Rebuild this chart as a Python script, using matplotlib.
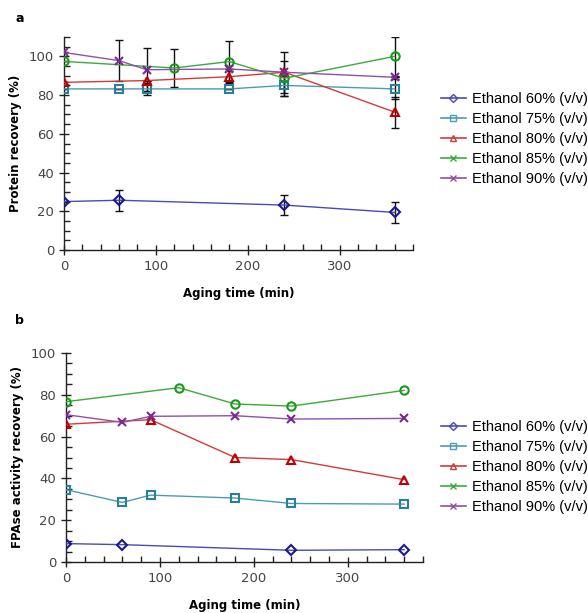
import matplotlib
matplotlib.use("Agg")
import matplotlib.pyplot as plt
from matplotlib.lines import Line2D
from matplotlib.ticker import MultipleLocator

labels = ["Ethanol 60% (v/v)", "Ethanol 75% (v/v)", "Ethanol 80% (v/v)",
          "Ethanol 85% (v/v)", "Ethanol 90% (v/v)"]

# Panel a: protein recovery (%)
a_x60 = [0, 60, 240, 360]
a_y60 = [25.0, 25.7, 23.2, 19.4]
a_e60 = [0, 5.4, 5.2, 5.2]
a_x75 = [0, 60, 90, 180, 240, 360]
a_y75 = [83.2, 83.2, 83.2, 83.2, 85.0, 83.2]
a_e75 = [0, 0, 3, 0, 5.5, 5]
a_x80 = [0, 90, 180, 240, 360]
a_y80 = [86.6, 87.5, 89.5, 91.8, 71.2]
a_e80 = [0, 0, 3, 0, 8]
a_x85 = [0, 120, 180, 240, 360]
a_y85 = [97.4, 94.0, 97.3, 88.7, 100.0]
a_e85 = [0, 10, 10.5, 9, 10]
a_x90 = [0, 60, 90, 180, 240, 360]
a_y90 = [102.0, 97.8, 93.1, 93.5, 91.8, 89.2]
a_e90 = [0, 10.5, 11, 0, 10.5, 0]

# Panel b: FPAse activity recovery (%)
b_x60 = [0, 60, 240, 360]
b_y60 = [8.8, 8.3, 5.6, 5.9]
b_x75 = [0, 60, 90, 180, 240, 360]
b_y75 = [34.6, 28.5, 32.0, 30.6, 28.0, 27.7]
b_x80 = [0, 90, 180, 240, 360]
b_y80 = [65.9, 68.1, 50.0, 49.0, 39.4]
b_x85 = [0, 120, 180, 240, 360]
b_y85 = [76.7, 83.4, 75.6, 74.6, 82.1]
b_x90 = [0, 60, 90, 180, 240, 360]
b_y90 = [70.5, 66.8, 69.7, 70.0, 68.4, 68.7]

line_colors = ["#4a4ab8", "#4a9cb4", "#d23a3a", "#3aab3a", "#9050a8"]
mk_colors = ["#1a1a8c", "#2a7f9a", "#c00000", "#1a9a1a", "#7a2a90"]
plot_markers = ["D", "s", "^", "o", "x"]
leg_markers = ["D", "s", "^", "x", "x"]

fig = plt.figure(figsize=(5.88, 6.13), dpi=100)
W, H = 588, 613
axA = fig.add_axes([64 / W, 1 - 250 / H, (413 - 64) / W, (250 - 37) / H])
axB = fig.add_axes([66 / W, 1 - 562 / H, (423 - 66) / W, (562 - 353) / H])

def style(ax, ylim, ylabel):
    ax.set_xlim(0, 380)
    ax.set_ylim(*ylim)
    for s in ["top", "right"]:
        ax.spines[s].set_visible(False)
    for s in ["left", "bottom"]:
        ax.spines[s].set_color("#222222")
        ax.spines[s].set_linewidth(1.0)
    ax.xaxis.set_major_locator(MultipleLocator(100))
    ax.xaxis.set_minor_locator(MultipleLocator(20))
    ax.yaxis.set_major_locator(MultipleLocator(20))
    ax.yaxis.set_minor_locator(MultipleLocator(5))
    ax.tick_params(which="major", direction="inout", length=7, width=1,
                   color="#222222", labelsize=9.5, labelcolor="#444444")
    ax.tick_params(which="minor", direction="in", length=4, width=1, color="#222222")
    ax.set_xlabel("Aging time (min)", fontsize=8.5, fontweight="bold", labelpad=10)
    ax.set_ylabel(ylabel, fontsize=8.5, fontweight="bold", labelpad=5)

def legend(ax, x0, yc):
    handles = [Line2D([0], [0], color=line_colors[i], marker=leg_markers[i],
                      markerfacecolor="none", markeredgecolor=line_colors[i],
                      markersize=4.5, lw=1.2) for i in range(5)]
    fig.legend(handles, labels, loc="center left",
               bbox_to_anchor=(x0 / W, 1 - yc / H), bbox_transform=fig.transFigure,
               frameon=False, prop={"family": "Liberation Sans", "size": 10.5},
               handlelength=1.7, handletextpad=0.4, labelspacing=0.42,
               borderpad=0, borderaxespad=0)

a_sets = [(a_x60, a_y60, a_e60), (a_x75, a_y75, a_e75), (a_x80, a_y80, a_e80),
          (a_x85, a_y85, a_e85), (a_x90, a_y90, a_e90)]
for i, (x, y, e) in enumerate(a_sets):
    axA.errorbar(x, y, yerr=e, fmt="none", ecolor="#111111", elinewidth=1,
                 capsize=3, capthick=1, zorder=2)
    axA.plot(x, y, color=line_colors[i], lw=1, marker=plot_markers[i],
             markersize=6 if plot_markers[i] != "D" else 5,
             markerfacecolor="none", markeredgecolor=mk_colors[i],
             markeredgewidth=1.5, zorder=3)

b_sets = [(b_x60, b_y60), (b_x75, b_y75), (b_x80, b_y80), (b_x85, b_y85), (b_x90, b_y90)]
for i, (x, y) in enumerate(b_sets):
    axB.plot(x, y, color=line_colors[i], lw=1, marker=plot_markers[i],
             markersize=6 if plot_markers[i] != "D" else 5,
             markerfacecolor="none", markeredgecolor=mk_colors[i],
             markeredgewidth=1.5, zorder=3)

style(axA, (0, 110), "Protein recovery (%)")
style(axB, (0, 100), "FPAse activity recovery (%)")
legend(axA, 441, 139)
legend(axB, 441, 467)

fig.text(15 / W, 1 - 18 / H, "a", fontsize=9, fontweight="bold", va="center")
fig.text(15 / W, 1 - 321 / H, "b", fontsize=9, fontweight="bold", va="center")

fig.savefig("out.png", dpi=100)
